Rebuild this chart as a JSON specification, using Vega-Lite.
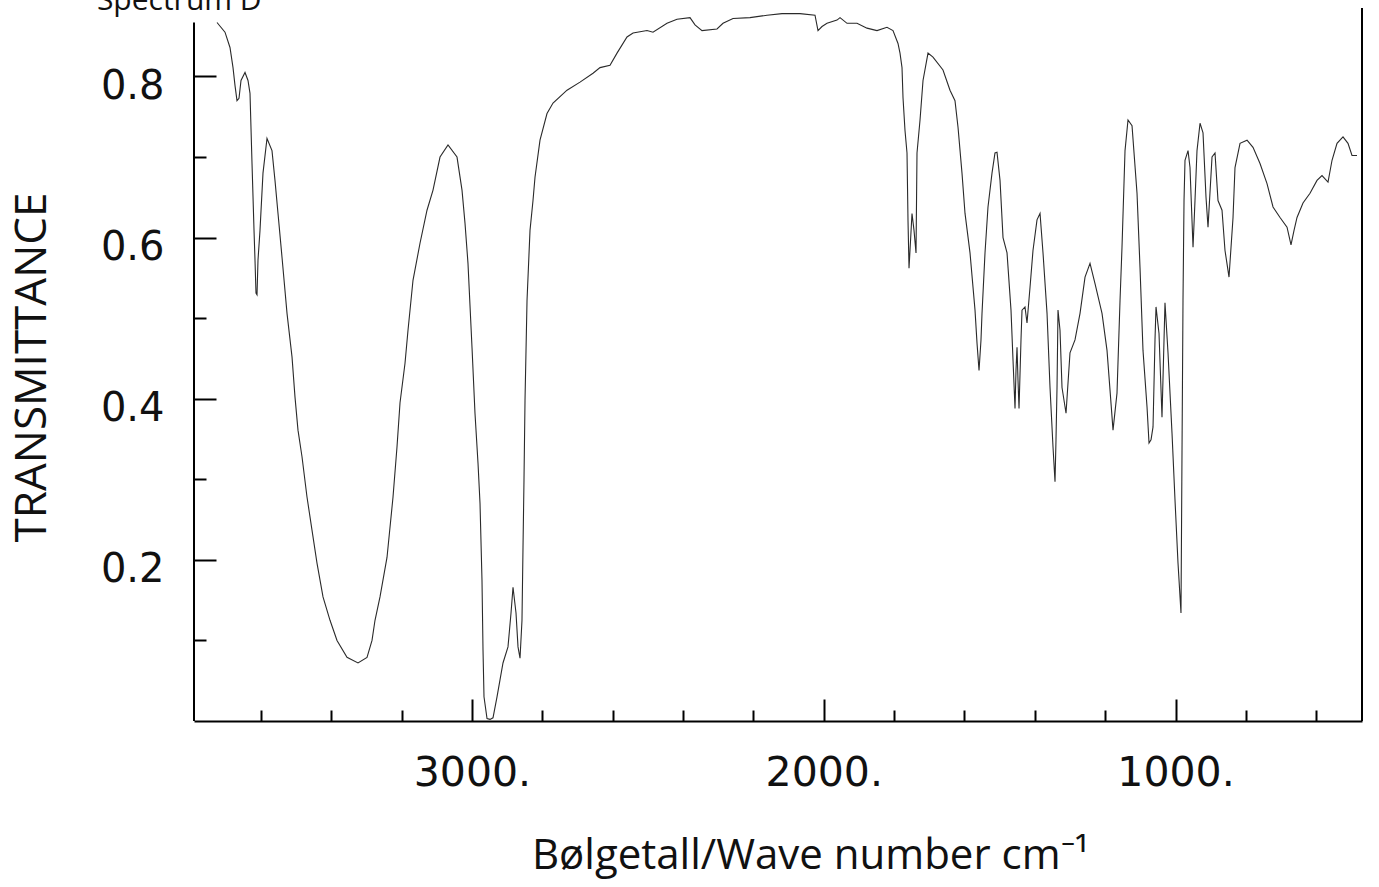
{
  "$schema": "https://vega.github.io/schema/vega-lite/v6.json",
  "width": 1168,
  "height": 713,
  "autosize": {"type": "none"},
  "padding": {"left": 194, "top": 8, "right": 17, "bottom": 166},
  "background": "white",
  "config": {"view": {"stroke": null}},
  "layer": [
    {
      "data": {"values": [
        {"wn":3724.6,"T":0.867},{"wn":3701.9,"T":0.855},{"wn":3687.7,"T":0.836},{"wn":3679.1,"T":0.811},{"wn":3673.5,"T":0.789},{"wn":3667.8,"T":0.770},{"wn":3662.1,"T":0.773},{"wn":3656.4,"T":0.795},{"wn":3645.0,"T":0.805},{"wn":3636.5,"T":0.795},{"wn":3630.8,"T":0.779},{"wn":3625.1,"T":0.692},{"wn":3619.4,"T":0.609},{"wn":3616.6,"T":0.572},{"wn":3613.8,"T":0.531},{"wn":3610.9,"T":0.529},{"wn":3608.1,"T":0.572},{"wn":3602.4,"T":0.609},{"wn":3593.9,"T":0.680},{"wn":3582.5,"T":0.723},{"wn":3568.3,"T":0.708},{"wn":3559.8,"T":0.671},{"wn":3551.2,"T":0.630},{"wn":3539.9,"T":0.576},{"wn":3525.6,"T":0.506},{"wn":3511.4,"T":0.452},{"wn":3502.9,"T":0.402},{"wn":3494.4,"T":0.361},{"wn":3483.0,"T":0.328},{"wn":3468.8,"T":0.278},{"wn":3454.6,"T":0.237},{"wn":3440.4,"T":0.196},{"wn":3423.3,"T":0.154},{"wn":3403.4,"T":0.125},{"wn":3383.5,"T":0.100},{"wn":3355.1,"T":0.079},{"wn":3323.8,"T":0.072},{"wn":3298.2,"T":0.079},{"wn":3284.0,"T":0.100},{"wn":3275.5,"T":0.125},{"wn":3261.3,"T":0.154},{"wn":3241.4,"T":0.203},{"wn":3224.3,"T":0.278},{"wn":3213.0,"T":0.340},{"wn":3204.4,"T":0.395},{"wn":3190.2,"T":0.444},{"wn":3181.7,"T":0.485},{"wn":3167.5,"T":0.547},{"wn":3147.6,"T":0.593},{"wn":3127.7,"T":0.634},{"wn":3110.6,"T":0.659},{"wn":3090.7,"T":0.700},{"wn":3068.0,"T":0.715},{"wn":3042.4,"T":0.700},{"wn":3028.2,"T":0.659},{"wn":3019.7,"T":0.618},{"wn":3011.2,"T":0.568},{"wn":2999.8,"T":0.464},{"wn":2991.3,"T":0.382},{"wn":2982.7,"T":0.320},{"wn":2977.0,"T":0.270},{"wn":2971.4,"T":0.175},{"wn":2968.5,"T":0.088},{"wn":2965.7,"T":0.030},{"wn":2957.1,"T":0.003},{"wn":2948.6,"T":0.002},{"wn":2940.1,"T":0.004},{"wn":2928.7,"T":0.030},{"wn":2920.2,"T":0.051},{"wn":2911.7,"T":0.072},{"wn":2897.5,"T":0.092},{"wn":2888.9,"T":0.134},{"wn":2883.2,"T":0.166},{"wn":2874.7,"T":0.134},{"wn":2869.0,"T":0.092},{"wn":2863.3,"T":0.078},{"wn":2857.7,"T":0.125},{"wn":2854.8,"T":0.216},{"wn":2852.0,"T":0.299},{"wn":2849.1,"T":0.398},{"wn":2843.4,"T":0.522},{"wn":2834.9,"T":0.609},{"wn":2826.4,"T":0.646},{"wn":2820.7,"T":0.675},{"wn":2806.5,"T":0.721},{"wn":2786.6,"T":0.754},{"wn":2769.5,"T":0.767},{"wn":2729.7,"T":0.783},{"wn":2692.8,"T":0.793},{"wn":2655.8,"T":0.804},{"wn":2635.9,"T":0.811},{"wn":2607.5,"T":0.814},{"wn":2587.6,"T":0.829},{"wn":2559.2,"T":0.849},{"wn":2542.1,"T":0.854},{"wn":2502.3,"T":0.857},{"wn":2485.3,"T":0.855},{"wn":2445.5,"T":0.866},{"wn":2417.1,"T":0.871},{"wn":2380.1,"T":0.873},{"wn":2365.9,"T":0.864},{"wn":2346.0,"T":0.857},{"wn":2303.4,"T":0.859},{"wn":2286.3,"T":0.866},{"wn":2257.9,"T":0.872},{"wn":2209.6,"T":0.873},{"wn":2161.2,"T":0.876},{"wn":2118.6,"T":0.878},{"wn":2067.4,"T":0.878},{"wn":2024.8,"T":0.876},{"wn":2016.3,"T":0.857},{"wn":2004.9,"T":0.862},{"wn":1990.7,"T":0.866},{"wn":1962.3,"T":0.870},{"wn":1953.7,"T":0.873},{"wn":1933.8,"T":0.866},{"wn":1905.4,"T":0.866},{"wn":1877.0,"T":0.860},{"wn":1848.6,"T":0.857},{"wn":1820.2,"T":0.861},{"wn":1803.1,"T":0.857},{"wn":1788.9,"T":0.841},{"wn":1783.2,"T":0.829},{"wn":1777.5,"T":0.811},{"wn":1774.7,"T":0.774},{"wn":1769.0,"T":0.733},{"wn":1763.3,"T":0.705},{"wn":1760.5,"T":0.622},{"wn":1757.6,"T":0.562},{"wn":1754.8,"T":0.584},{"wn":1749.1,"T":0.630},{"wn":1743.4,"T":0.609},{"wn":1737.7,"T":0.581},{"wn":1734.9,"T":0.705},{"wn":1726.3,"T":0.746},{"wn":1717.8,"T":0.795},{"wn":1703.6,"T":0.829},{"wn":1689.4,"T":0.824},{"wn":1661.0,"T":0.808},{"wn":1641.1,"T":0.783},{"wn":1626.9,"T":0.770},{"wn":1618.3,"T":0.737},{"wn":1607.0,"T":0.680},{"wn":1598.4,"T":0.630},{"wn":1584.2,"T":0.581},{"wn":1570.0,"T":0.510},{"wn":1564.3,"T":0.469},{"wn":1558.6,"T":0.435},{"wn":1553.0,"T":0.473},{"wn":1550.1,"T":0.506},{"wn":1541.6,"T":0.581},{"wn":1533.1,"T":0.638},{"wn":1521.7,"T":0.680},{"wn":1513.2,"T":0.705},{"wn":1507.5,"T":0.706},{"wn":1498.9,"T":0.671},{"wn":1490.4,"T":0.600},{"wn":1479.0,"T":0.581},{"wn":1467.7,"T":0.510},{"wn":1462.0,"T":0.448},{"wn":1456.3,"T":0.388},{"wn":1453.5,"T":0.435},{"wn":1450.6,"T":0.464},{"wn":1447.8,"T":0.423},{"wn":1444.9,"T":0.388},{"wn":1439.3,"T":0.473},{"wn":1436.4,"T":0.510},{"wn":1427.9,"T":0.514},{"wn":1422.2,"T":0.494},{"wn":1413.7,"T":0.538},{"wn":1405.2,"T":0.584},{"wn":1393.8,"T":0.622},{"wn":1385.2,"T":0.630},{"wn":1376.7,"T":0.581},{"wn":1365.3,"T":0.506},{"wn":1356.8,"T":0.414},{"wn":1348.3,"T":0.340},{"wn":1342.6,"T":0.297},{"wn":1339.8,"T":0.349},{"wn":1336.9,"T":0.414},{"wn":1334.1,"T":0.510},{"wn":1328.4,"T":0.485},{"wn":1322.7,"T":0.414},{"wn":1311.3,"T":0.382},{"wn":1300.0,"T":0.457},{"wn":1285.8,"T":0.473},{"wn":1271.5,"T":0.506},{"wn":1257.3,"T":0.551},{"wn":1243.1,"T":0.568},{"wn":1228.9,"T":0.543},{"wn":1209.0,"T":0.506},{"wn":1194.8,"T":0.460},{"wn":1186.3,"T":0.411},{"wn":1177.7,"T":0.361},{"wn":1166.4,"T":0.407},{"wn":1157.8,"T":0.522},{"wn":1152.2,"T":0.588},{"wn":1143.6,"T":0.708},{"wn":1135.1,"T":0.746},{"wn":1123.7,"T":0.739},{"wn":1109.5,"T":0.655},{"wn":1101.0,"T":0.563},{"wn":1092.5,"T":0.460},{"wn":1081.1,"T":0.390},{"wn":1075.4,"T":0.345},{"wn":1069.7,"T":0.349},{"wn":1064.0,"T":0.365},{"wn":1058.4,"T":0.473},{"wn":1055.5,"T":0.514},{"wn":1047.0,"T":0.481},{"wn":1038.5,"T":0.377},{"wn":1030.0,"T":0.519},{"wn":1021.4,"T":0.457},{"wn":1010.0,"T":0.357},{"wn":1001.5,"T":0.274},{"wn":993.0,"T":0.196},{"wn":984.5,"T":0.134},{"wn":981.6,"T":0.336},{"wn":978.8,"T":0.522},{"wn":975.9,"T":0.646},{"wn":973.1,"T":0.696},{"wn":964.5,"T":0.708},{"wn":958.9,"T":0.687},{"wn":950.3,"T":0.588},{"wn":944.7,"T":0.646},{"wn":939.0,"T":0.708},{"wn":930.4,"T":0.742},{"wn":921.9,"T":0.730},{"wn":913.4,"T":0.650},{"wn":907.7,"T":0.613},{"wn":896.3,"T":0.700},{"wn":887.8,"T":0.705},{"wn":879.3,"T":0.646},{"wn":867.9,"T":0.634},{"wn":859.4,"T":0.584},{"wn":848.0,"T":0.551},{"wn":836.6,"T":0.625},{"wn":831.0,"T":0.687},{"wn":816.7,"T":0.717},{"wn":796.8,"T":0.721},{"wn":779.8,"T":0.712},{"wn":759.9,"T":0.692},{"wn":740.0,"T":0.667},{"wn":722.9,"T":0.638},{"wn":703.0,"T":0.625},{"wn":683.1,"T":0.613},{"wn":671.8,"T":0.591},{"wn":663.2,"T":0.609},{"wn":654.7,"T":0.625},{"wn":637.7,"T":0.643},{"wn":617.8,"T":0.655},{"wn":597.9,"T":0.671},{"wn":583.7,"T":0.677},{"wn":566.6,"T":0.669},{"wn":555.2,"T":0.696},{"wn":541.0,"T":0.717},{"wn":524.0,"T":0.725},{"wn":509.8,"T":0.717},{"wn":498.4,"T":0.702},{"wn":484.2,"T":0.702}
      ]},
      "mark": {"type": "line", "color": "#2a2a2a", "strokeWidth": 1.1},
      "encoding": {
        "x": {
          "field": "wn", "type": "quantitative",
          "scale": {"domain": [3790, 470], "nice": false, "zero": false},
          "axis": {
            "values": [3600,3400,3200,3000,2800,2600,2400,2200,2000,1800,1600,1400,1200,1000,800,600],
            "labelExpr": "datum.value % 1000 === 0 ? datum.value + '.' : ''",
            "tickSize": {"condition": {"test": "datum.value % 1000 === 0", "value": -22}, "value": -11},
            "tickColor": "black", "tickWidth": 2,
            "domainColor": "black", "domainWidth": 2,
            "grid": false,
            "labelFont": "DejaVu Sans", "labelFontSize": 41, "labelColor": "#111111",
            "labelPadding": 54, "labelBaseline": "top", "labelFlush": false, "labelOverlap": false,
            "title": "Bølgetall/Wave number cm⁻¹",
            "titleFont": "Open Sans", "titleFontSize": 42, "titleFontWeight": "normal", "titleColor": "#111111",
            "titleX": 616, "titleY": 147, "titleAlign": "center", "titleBaseline": "alphabetic"
          }
        },
        "y": {
          "field": "T", "type": "quantitative",
          "scale": {"domain": [0, 0.885], "nice": false},
          "axis": {
            "values": [0.1,0.2,0.3,0.4,0.5,0.6,0.7,0.8],
            "labelExpr": "round(datum.value*10) % 2 === 0 ? format(datum.value, '.1f') : ''",
            "tickSize": {"condition": {"test": "round(datum.value*10) % 2 === 0", "value": -22}, "value": -12},
            "tickColor": "black", "tickWidth": 2,
            "domain": false,
            "grid": false,
            "labelFont": "DejaVu Sans", "labelFontSize": 40, "labelColor": "#111111",
            "labelPadding": 52, "labelOffset": 10, "labelFlush": false, "labelOverlap": false,
            "title": "TRANSMITTANCE",
            "titleFont": "Open Sans", "titleFontSize": 44, "titleFontWeight": "normal", "titleColor": "#111111",
            "titleX": -162, "titleY": 359, "titleAngle": -90, "titleAlign": "center", "titleBaseline": "middle"
          }
        }
      }
    },
    {
      "data": {"values": [{}]},
      "mark": {"type": "rule", "color": "black", "strokeWidth": 2},
      "encoding": {"x": {"datum": 3790}, "y": {"datum": 0}, "y2": {"datum": 0.867}}
    },
    {
      "data": {"values": [{}]},
      "mark": {"type": "rule", "color": "black", "strokeWidth": 2},
      "encoding": {"x": {"datum": 470}, "y": {"datum": 0}, "y2": {"datum": 0.885}}
    },
    {
      "data": {"values": [{}]},
      "mark": {"type": "text", "font": "Open Sans", "fontSize": 30, "align": "left", "baseline": "alphabetic", "color": "#111111"},
      "encoding": {"x": {"datum": 4066}, "y": {"datum": 0.882}, "text": {"value": "Spectrum D"}}
    }
  ]
}
